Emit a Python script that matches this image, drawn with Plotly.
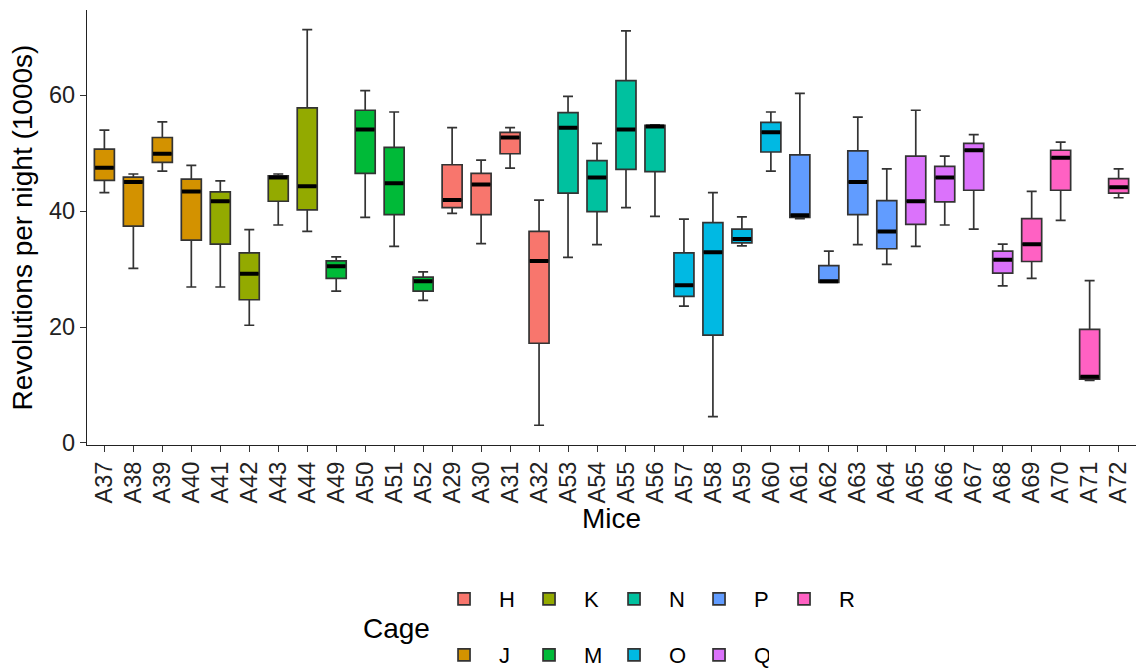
import plotly.graph_objects as go

mice = ["A37", "A38", "A39", "A40", "A41", "A42", "A43", "A44", "A49", "A50", "A51", "A52",
        "A29", "A30", "A31", "A32", "A53", "A54", "A55", "A56", "A57", "A58", "A59", "A60",
        "A61", "A62", "A63", "A64", "A65", "A66", "A67", "A68", "A69", "A70", "A71", "A72"]
cage = ["J", "J", "J", "J", "K", "K", "K", "K", "M", "M", "M", "M",
        "H", "H", "H", "H", "N", "N", "N", "N", "O", "O", "O", "O",
        "P", "P", "P", "P", "Q", "Q", "Q", "Q", "R", "R", "R", "R"]
lower = [43.2, 30.1, 46.9, 26.9, 26.9, 20.3, 37.6, 36.5, 26.2, 38.9, 33.9, 24.6,
         39.6, 34.4, 47.4, 3.05, 32.0, 34.2, 40.6, 39.1, 23.6, 4.55, 34.0, 46.9,
         38.7, 27.7, 34.2, 30.8, 33.9, 37.6, 36.9, 27.1, 28.4, 38.4, 10.8, 42.3]
q1 = [45.3, 37.4, 48.4, 35.0, 34.3, 24.7, 41.7, 40.2, 28.4, 46.5, 39.4, 26.2,
      40.6, 39.4, 49.9, 17.2, 43.1, 39.9, 47.2, 46.8, 25.3, 18.6, 34.5, 50.2,
      38.9, 27.7, 39.4, 33.5, 37.7, 41.6, 43.6, 29.3, 31.3, 43.6, 11.0, 43.1]
median = [47.5, 45.0, 49.9, 43.4, 41.7, 29.2, 45.8, 44.3, 30.5, 54.1, 44.8, 27.9,
          41.9, 44.6, 52.7, 31.4, 54.4, 45.8, 54.1, 54.6, 27.2, 32.9, 35.2, 53.6,
          39.3, 27.9, 45.0, 36.5, 41.7, 45.8, 50.5, 31.6, 34.3, 49.2, 11.4, 44.1]
q3 = [50.7, 45.85, 52.7, 45.5, 43.3, 32.8, 46.1, 57.8, 31.4, 57.4, 51.0, 28.6,
      48.0, 46.5, 53.6, 36.5, 57.0, 48.7, 62.5, 54.8, 32.8, 38.0, 36.9, 55.3,
      49.7, 30.6, 50.4, 41.8, 49.5, 47.7, 51.7, 33.1, 38.7, 50.5, 19.6, 45.6]
upper = [53.96, 46.4, 55.4, 47.9, 45.2, 36.8, 46.4, 71.3, 32.1, 60.8, 57.1, 29.5,
         54.4, 48.8, 54.4, 41.9, 59.8, 51.7, 71.1, 54.9, 38.6, 43.2, 39.0, 57.1,
         60.3, 33.1, 56.2, 47.3, 57.4, 49.5, 53.2, 34.3, 43.4, 51.9, 28.0, 47.3]

cages = ["H", "J", "K", "M", "N", "O", "P", "Q", "R"]
cage_colors = ["#F8766D", "#D39200", "#93AA00", "#00BA38", "#00C19F",
               "#00B9E3", "#619CFF", "#DB72FB", "#FF61C3"]
row1 = ["H", "K", "N", "P", "R"]

FONT = "Liberation Sans, Arial, sans-serif"
BW = 0.69

fig = go.Figure()
for c, col in zip(cages, cage_colors):
    idx = [i for i, g in enumerate(cage) if g == c]
    fig.add_trace(go.Box(
        name=c,
        x=[mice[i] for i in idx],
        q1=[q1[i] for i in idx],
        median=[median[i] for i in idx],
        q3=[q3[i] for i in idx],
        lowerfence=[lower[i] for i in idx],
        upperfence=[upper[i] for i in idx],
        fillcolor=col,
        line=dict(color="#333333", width=1.7),
        width=BW,
        boxpoints=False,
        hoverinfo="skip",
        legend="legend" if c in row1 else "legend2",
    ))

# thick median bars (ggplot-style fattened median)
fig.add_trace(go.Box(
    x=mice, q1=median, median=median, q3=median,
    lowerfence=median, upperfence=median,
    fillcolor="rgba(0,0,0,0)",
    line=dict(color="black", width=4),
    width=BW * 0.93, boxpoints=False, showlegend=False, hoverinfo="skip",
))

legend_common = dict(
    orientation="h", xref="container", yref="container",
    x=0.3747, xanchor="left", yanchor="middle",
    font=dict(size=22), itemwidth=60, entrywidth=10, entrywidthmode="pixels",
    bgcolor="rgba(0,0,0,0)", traceorder="normal",
)

fig.update_layout(
    width=1145, height=668,
    margin=dict(l=87, r=9, t=10, b=223, autoexpand=False),
    paper_bgcolor="white", plot_bgcolor="white",
    font=dict(family=FONT, color="black"),
    boxmode="overlay",
    showlegend=True,
    xaxis=dict(
        type="category", categoryorder="array", categoryarray=mice,
        range=[-0.6, len(mice) - 0.4],
        showline=True, linecolor="#222222", linewidth=1.3,
        ticks="outside", ticklen=6, tickcolor="#333333", tickwidth=1.2,
        tickangle=-90, tickfont=dict(size=23.5, color="#222222"),
        showgrid=False, zeroline=False,
        title=dict(text="Mice", font=dict(size=28, color="black"), standoff=6),
    ),
    yaxis=dict(
        range=[-0.36, 74.7],
        tickvals=[0, 20, 40, 60],
        showline=True, linecolor="#222222", linewidth=1.3,
        ticks="outside", ticklen=6, tickcolor="#333333", tickwidth=1.2,
        tickfont=dict(size=23.5, color="#222222"),
        showgrid=False, zeroline=False,
        title=dict(text="Revolutions per night (1000s)", font=dict(size=28, color="black"), standoff=8),
    ),
    legend=dict(legend_common, y=1 - 599 / 668),
    legend2=dict(legend_common, y=1 - 655 / 668),
    annotations=[dict(
        text="Cage", xref="paper", yref="paper", x=0.2946, y=-0.4213,
        xanchor="center", yanchor="middle", showarrow=False,
        font=dict(size=28, color="black"),
    )],
)

fig.write_html("out.html")
